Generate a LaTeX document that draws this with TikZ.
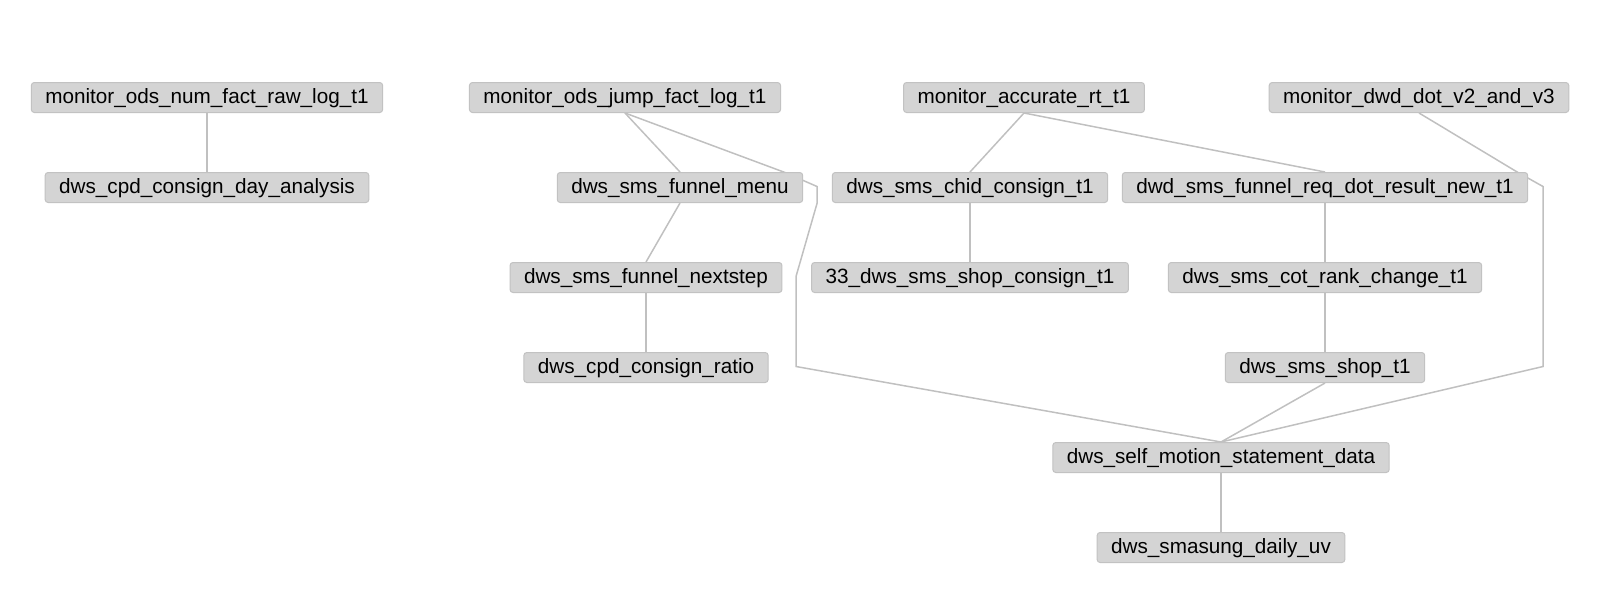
\documentclass[tikz,border=0pt]{standalone}
\usepackage{fontspec}
\setmainfont{Liberation Sans}
\usetikzlibrary{positioning,backgrounds}
\definecolor{boxfill}{HTML}{D4D4D4}
\definecolor{boxline}{HTML}{C2C2C2}
\definecolor{edgeline}{HTML}{C0C0C0}
\tikzset{
    tbl/.style={draw=boxline,fill=boxfill,rounded corners=1.5pt,line width=0.5pt,
        inner xsep=7pt,inner ysep=0pt,minimum height=15pt,
        font=\fontsize{10.35}{12}\selectfont,text height=7.6pt,text depth=2.1pt},
    dep/.style={draw=edgeline,line width=0.75pt}
}
\begin{document}
\begin{tikzpicture}[x=0.5pt,y=-0.5pt]
    \useasboundingbox (0,-1.5) rectangle (1601,594.5);
    \node[tbl] (nfraw) at (207,96) {monitor\_ods\_num\_fact\_raw\_log\_t1};
    \node[tbl] (cpdday) at (207,186) {dws\_cpd\_consign\_day\_analysis};
%
    \node[tbl] (jump) at (625,96) {monitor\_ods\_jump\_fact\_log\_t1};
    \node[tbl] (menu) at (680,186) {dws\_sms\_funnel\_menu};
    \node[tbl] (next) at (646,276) {dws\_sms\_funnel\_nextstep};
    \node[tbl] (ratio) at (646,366) {dws\_cpd\_consign\_ratio};
%
    \node[tbl] (accrt) at (1024,96) {monitor\_accurate\_rt\_t1};
    \node[tbl] (chid) at (970,186) {dws\_sms\_chid\_consign\_t1};
    \node[tbl] (shopcons) at (970,276) {33\_dws\_sms\_shop\_consign\_t1};
%
    \node[tbl] (dwddot) at (1419,96) {monitor\_dwd\_dot\_v2\_and\_v3};
    \node[tbl] (req) at (1325,186) {dwd\_sms\_funnel\_req\_dot\_result\_new\_t1};
    \node[tbl] (cot) at (1325,276) {dws\_sms\_cot\_rank\_change\_t1};
    \node[tbl] (shop) at (1325,366) {dws\_sms\_shop\_t1};
    \node[tbl] (selfmo) at (1221,456) {dws\_self\_motion\_statement\_data};
    \node[tbl] (dailyuv) at (1221,546) {dws\_smasung\_daily\_uv};
%
    \coordinate (jbendA) at (785,171);
    \coordinate (jbendB) at (817,185);
    \coordinate (jbendC) at (817,202);
    \coordinate (jbendD) at (796,275);
    \coordinate (jbendE) at (796,365);
    \coordinate (dbendA) at (1518,171);
    \coordinate (dbendB) at (1543,185);
    \coordinate (dbendC) at (1543,365);
%
    \begin{scope}[on background layer]
    \draw[dep] (nfraw.south) -- (cpdday.north);
    \draw[dep] (jump.south) -- (menu.north);
    \draw[dep] (jump.south) -- (jbendA) -- (jbendB) -- (jbendC)
        -- (jbendD) -- (jbendE) -- (selfmo.north);
    \draw[dep] (menu.south) -- (next.north);
    \draw[dep] (next.south) -- (ratio.north);
    \draw[dep] (accrt.south) -- (chid.north);
    \draw[dep] (accrt.south) -- (req.north);
    \draw[dep] (chid.south) -- (shopcons.north);
    \draw[dep] (dwddot.south) -- (dbendA) -- (dbendB) -- (dbendC) -- (selfmo.north);
    \draw[dep] (req.south) -- (cot.north);
    \draw[dep] (cot.south) -- (shop.north);
    \draw[dep] (shop.south) -- (selfmo.north);
    \draw[dep] (selfmo.south) -- (dailyuv.north);
    \end{scope}
\end{tikzpicture}
\end{document}
